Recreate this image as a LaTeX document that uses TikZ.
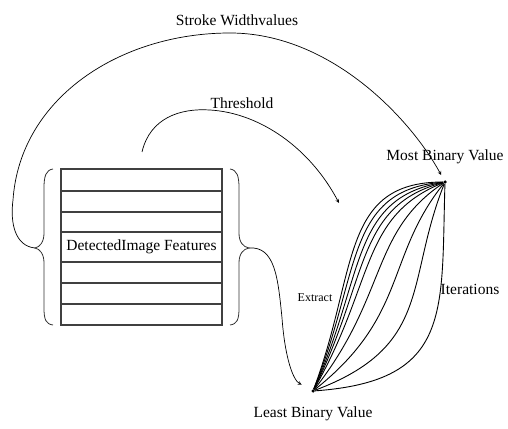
\documentclass[tikz,border=0pt]{standalone}
\usepackage{fontspec}
\setmainfont{Liberation Serif}
\usepackage{tikz}
\usetikzlibrary{arrows, positioning, calc}
\tikzstyle{lbl} = [font=\fontsize{15.5}{18}\selectfont, inner sep=2pt]
\tikzstyle{small} = [font=\fontsize{12}{14}\selectfont, inner sep=2pt]
\tikzstyle{arrow} = [line width=0.7pt,->,>=stealth]
\tikzstyle{curve} = [line width=0.9pt]
\tikzstyle{dot} = [circle, fill=black, inner sep=0pt, minimum size=3.5pt]
\tikzstyle{table} = [rectangle, draw=black!75, line width=1.2pt, minimum width=161pt, minimum height=156pt, inner sep=0pt, font=\fontsize{15.5}{18}\selectfont]
\tikzstyle{brace} = [line width=0.8pt, black!80]

\begin{document}
\begin{tikzpicture}[x=1pt, y=1pt]

    \useasboundingbox (0,0) rectangle (508,428);

    % --- Nodes ---
    \node (features) [table] at (141.5,181) {DetectedImage Features};
    \node (most) [dot] at (445,246) {};
    \node (least) [dot] at (313,37) {};
    \node (mostlbl) [lbl, above=14pt of most] {Most Binary Value};
    \node (leastlbl) [lbl, below=12pt of least] {Least Binary Value};

    % rows of the feature table
    \foreach \y in {237,216,196,166,145,124}
        \draw [black!75, line width=1.2pt] (features.west |- 0,\y) -- (features.east |- 0,\y);

    % --- Braces ---
    \coordinate (lbrace) at (35,180);
    \coordinate (rbrace) at (249,180);
    \draw [brace] (53,259) .. controls (46,258) and (44,252) .. (44,240) -- (44,195)
        .. controls (44,186) and (40,181) .. (lbrace)
        .. controls (40,179) and (44,174) .. (44,165) -- (44,120)
        .. controls (44,108) and (46,104) .. (53,103);
    \draw [brace] (230,259) .. controls (237,258) and (239,252) .. (239,240) -- (239,195)
        .. controls (239,186) and (243,181) .. (rbrace)
        .. controls (243,179) and (239,174) .. (239,165) -- (239,120)
        .. controls (239,108) and (237,104) .. (230,103);

    % --- Curves between the two values ---
    \foreach \a/\b/\c/\d in {45/120/105/0, 48/118/100/8, 52/115/95/16, 56/112/90/24,
                             62/108/85/34, 75/95/75/50, 95/75/60/75, 120/45/40/100, 140/10/4/130}
        \draw [curve] (least) .. controls ($(least)+(\a,\b)$) and ($(most)-(\c,\d)$) .. (most);

    % --- Connections ---
    \draw [arrow, shorten >=6pt] (lbrace) .. controls (15,182) and (10,205) .. (13,228)
        .. controls (20,330) and (120,395) .. (230,395)
        .. controls (330,395) and (410,310) .. (most);
    \coordinate (thrstart) at (142,276);
    \coordinate (thrend) at (339,225);
    \draw [arrow] (thrstart) .. controls (150,310) and (180,320) .. (210,318)
        .. controls (260,315) and (310,280) .. (thrend);
    \draw [arrow, shorten >=11pt] (rbrace) .. controls (275,182) and (278,150) .. (282,110)
        .. controls (285,70) and (293,48) .. (least);

    % --- Labels ---
    \node (stroke) [lbl] at (237,408) {Stroke Widthvalues};
    \node (thresh) [lbl] at (242,325) {Threshold};
    \node (extract) [small] at (315,130) {Extract};
    \node (iter) [lbl] at (470,139) {Iterations};

\end{tikzpicture}
\end{document}
